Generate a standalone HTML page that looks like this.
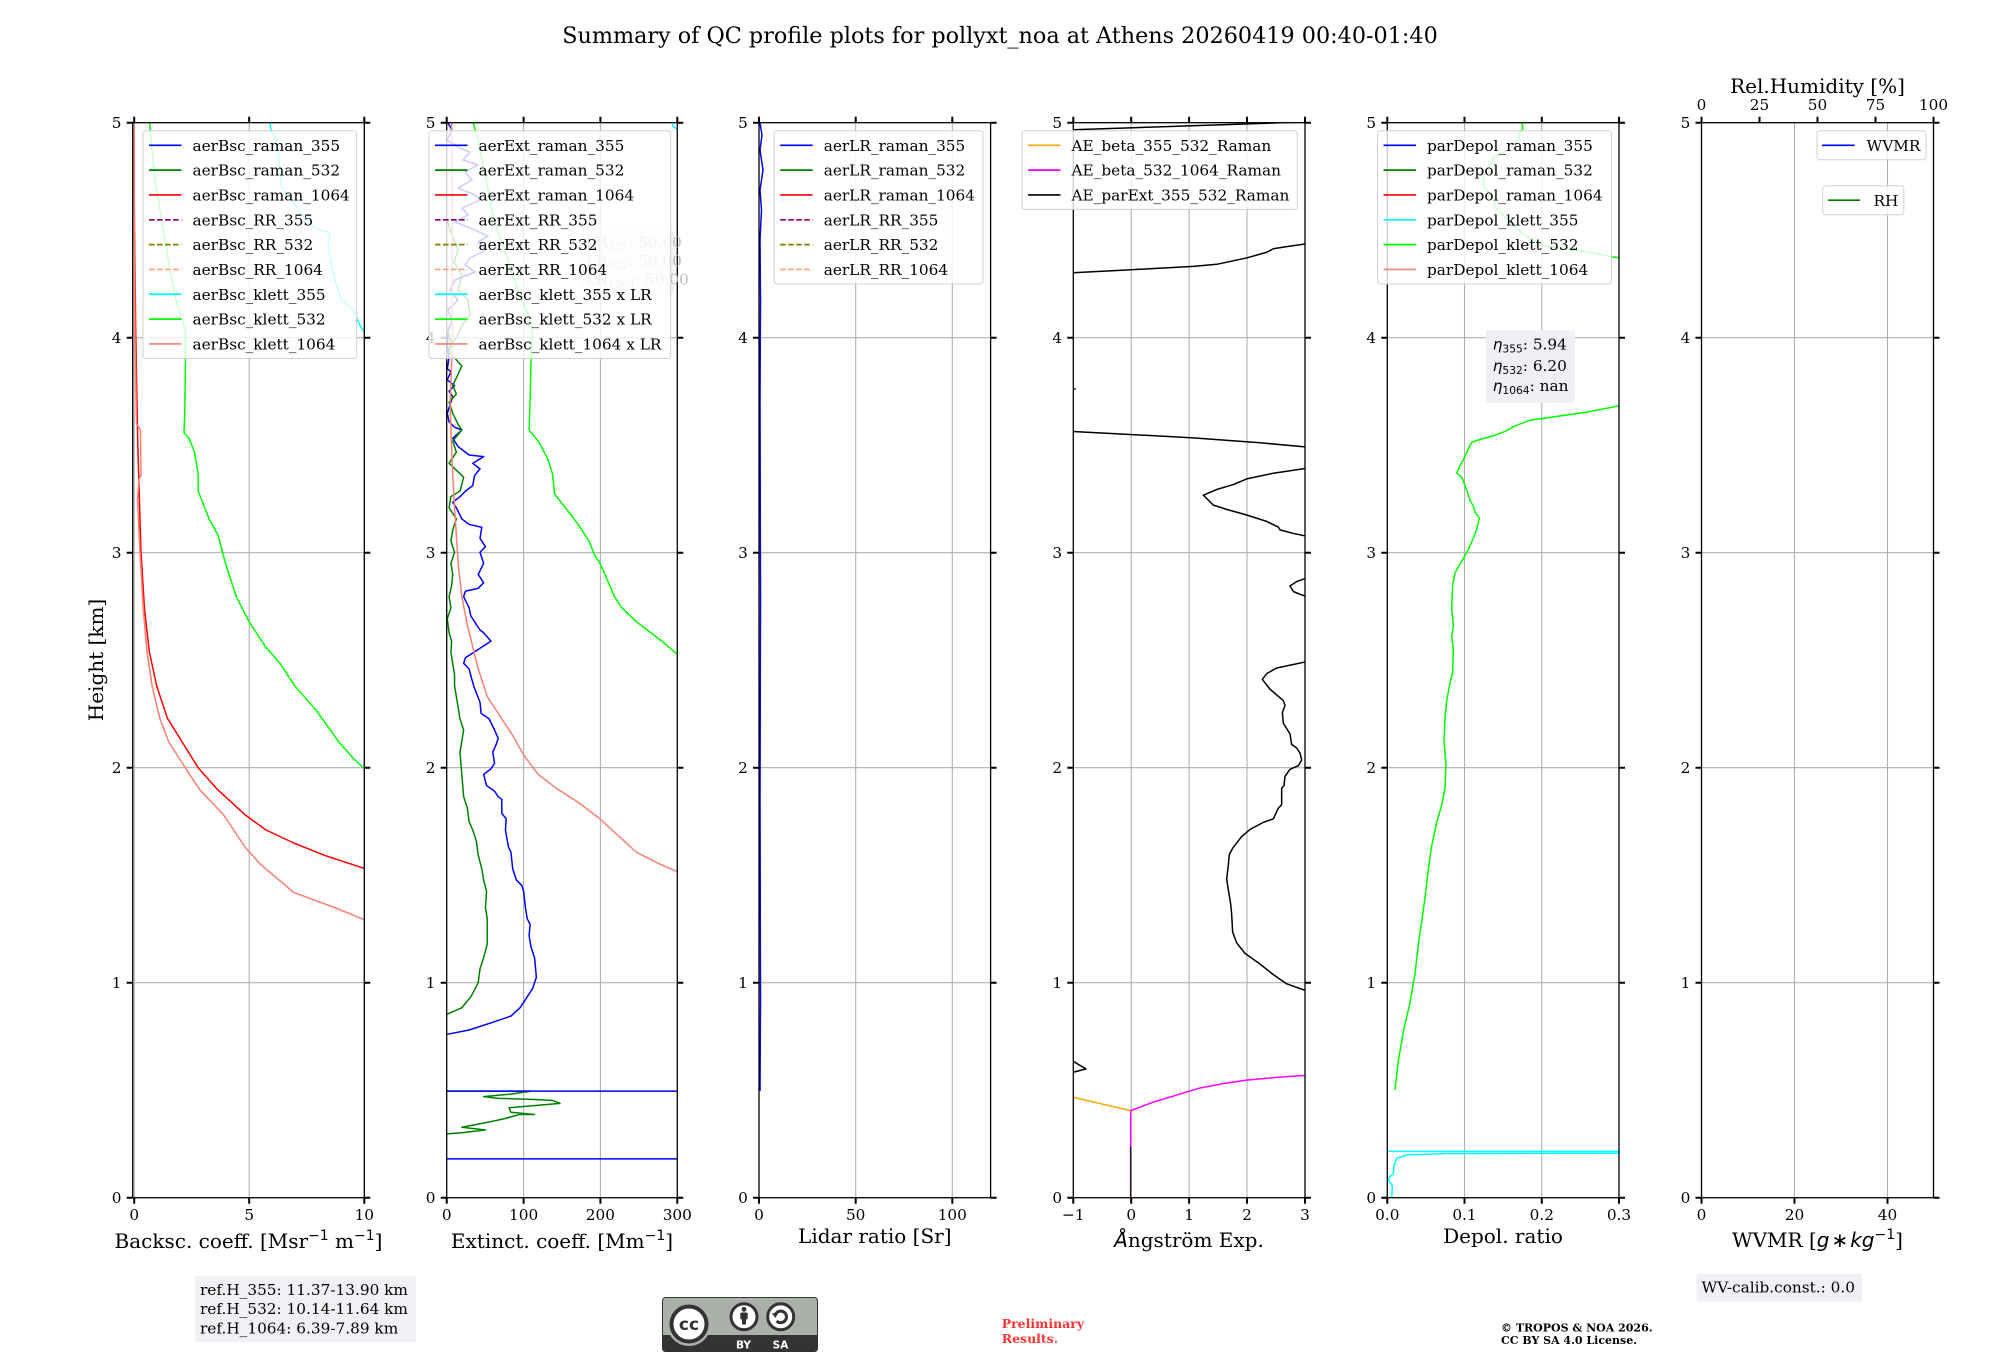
<!DOCTYPE html>
<html><head><meta charset="utf-8"><style>
html,body{margin:0;padding:0;background:#fff;}
svg{display:block;}
</style></head><body>
<svg width="2000" height="1360" viewBox="0 0 2000 1360" xmlns="http://www.w3.org/2000/svg" font-family="'DejaVu Serif', serif">
<rect width="2000" height="1360" fill="#fff"/>
<defs>
<clipPath id="c1"><rect x="132.7" y="122.7" width="231.6" height="1075"/></clipPath>
<clipPath id="c2"><rect x="446.7" y="122.7" width="230.6" height="1075"/></clipPath>
<clipPath id="c3"><rect x="759" y="122.7" width="231.6" height="1075"/></clipPath>
<clipPath id="c4"><rect x="1073.3" y="122.7" width="231.7" height="1075"/></clipPath>
<clipPath id="c5"><rect x="1387.3" y="122.7" width="231.7" height="1075"/></clipPath>
<clipPath id="c6"><rect x="1701.5" y="122.7" width="232" height="1075"/></clipPath>
</defs>

<!-- Title -->
<text x="1000" y="43" font-size="22.3" text-anchor="middle">Summary of QC profile plots for pollyxt_noa at Athens 20260419 00:40-01:40</text>

<!-- GRIDS -->
<g stroke="#b0b0b0" stroke-width="1.1" fill="none">
<path d="M134.2 122.7V1197.7M249.2 122.7V1197.7M364.3 122.7V1197.7M132.7 337.7H364.3M132.7 552.7H364.3M132.7 767.7H364.3M132.7 982.7H364.3"/>
<path d="M523.6 122.7V1197.7M600.4 122.7V1197.7M446.7 337.7H677.3M446.7 552.7H677.3M446.7 767.7H677.3M446.7 982.7H677.3"/>
<path d="M855.7 122.7V1197.7M952.3 122.7V1197.7M759 337.7H990.6M759 552.7H990.6M759 767.7H990.6M759 982.7H990.6"/>
<path d="M1131.2 122.7V1197.7M1189.1 122.7V1197.7M1247 122.7V1197.7M1073.3 337.7H1305M1073.3 552.7H1305M1073.3 767.7H1305M1073.3 982.7H1305"/>
<path d="M1464.5 122.7V1197.7M1541.8 122.7V1197.7M1387.3 337.7H1619M1387.3 552.7H1619M1387.3 767.7H1619M1387.3 982.7H1619"/>
<path d="M1794.5 122.7V1197.7M1887.5 122.7V1197.7M1701.5 337.7H1933.5M1701.5 552.7H1933.5M1701.5 767.7H1933.5M1701.5 982.7H1933.5"/>
</g>

<!-- PANEL 1 DATA -->
<g clip-path="url(#c1)" fill="none" stroke-width="1.5" stroke-linejoin="round">
<polyline stroke="#ff0000" points="133.8,122 134.5,230.2 135.8,337.7 137.8,445.2 141,552.7 144.5,608.6 149.3,651.6 156.7,686 167.4,718.3 182.1,741.9 198.1,767.7 217.2,789.2 245.2,814.9 266,830 293.7,843 326.1,855.9 365.1,868.7 426.4,886"/>
<polyline stroke="#00ffff" points="270,123 271,130 276.8,140 279,160 281.3,186.7 295,205 312.5,226.7 330.4,233.3 328,245 330.4,260 335,280 341.5,300 352.7,310 361.6,328.3 366,334"/>
<polyline stroke="#00ff00" points="149.6,122 152,150 155,180 160,210 165,240 170,270 176,300 182,320 185.5,330"/>
<polyline stroke="#fa8072" points="133.6,122 135,337.7 136.5,423.7 140.5,430 141,475 139,479 137.5,500 140,552.7 143.2,608.6 147,651.6 152.1,686 159.8,718.3 168.7,741.9 185.3,767.7 199.3,789.2 223.6,814.9 235,832 245.2,847.3 260.6,864.5 293.7,892.4 334.5,907.5 365.1,920.1 390,929"/>
<g transform="translate(120,330) scale(0.363636,0.555556)">
<polyline vector-effect="non-scaling-stroke" stroke="#00ff00" points="180,0 180,60 178,150 176,185 190,195 205,220 215,260 215,290 245,340 270,370 290,420 320,480 355,525 400,570 440,600 480,640 540,685 600,740 640,770 680,795"/>
</g>
</g>

<!-- PANEL 2 DATA -->
<g clip-path="url(#c2)" fill="none" stroke-width="1.5" stroke-linejoin="round">
<polyline stroke="#0000ff" points="448,123 452,130 447,140 460,148 470,152 463,160 478,165 465,172 472,180 458,188 475,195 480,200 462,208 468,215 455,222 470,228 488,236 478,242 486,250 470,258 465,265 475,272 455,280 450,290 458,300 448,310 452,320 448.4,330"/>
<polyline stroke="#008000" points="447,220 452,235 458,250 454,262 462,275 458,290 468,300 470,315 462,325 458,335 447,352"/>
<polyline stroke="#fa8072" points="451.5,122 452.5,200 452,280 452.7,330"/>
<polyline stroke="#00ff00" points="473,122 478,140 482,160 487,185 492,210 497,230 503,245 508,260 512,275 518,290 524,305 529,318 532.7,330"/>
<polyline stroke="#00ffff" points="672,124 674,127 678,130"/>
<g transform="translate(120,330) scale(0.363636,0.555556)">
<polyline vector-effect="non-scaling-stroke" stroke="#0000ff" points="903,0 900,30 905,50 900,70 910,75 900,90 920,100 905,110 915,120 900,150 905,165 920,175 940,180 915,195 930,210 960,225 1000,228 970,240 990,250 975,262 970,280 950,290 935,300 915,310 925,320 940,340 960,350 995,355 990,375 1005,390 990,400 1000,420 985,440 1000,455 985,465 950,470 945,480 960,500 965,515 975,525 990,540 1000,545 1020,560 985,575 950,590 945,600 960,610 968,630 975,645 990,670 993,690 1015,700 1030,720 1040,735 1035,745 1025,760 1030,780 1020,790 1000,800 1008,820 1030,830 1040,840 1050,845 1050,870 1062,880 1060,900 1068,930 1075,940 1080,970 1090,990 1105,1000 1110,1010 1115,1040 1120,1060 1128,1070 1125,1090 1130,1110 1140,1130 1145,1165 1135,1185 1120,1200 1100,1220 1075,1235 1030,1245 960,1260 898,1268"/>
<polyline vector-effect="non-scaling-stroke" stroke="#008000" points="900,0 910,20 905,40 920,50 940,65 915,100 925,115 905,130 915,150 930,170 940,180 915,200 925,220 905,240 945,265 935,290 910,300 905,320 925,340 915,360 910,380 920,400 910,420 915,440 912,460 905,480 910,500 900,520 905,545 912,560 910,580 915,600 920,620 920,640 925,660 930,680 935,700 945,720 940,740 935,760 940,800 945,840 955,860 960,885 970,900 980,920 985,945 995,970 1000,990 1008,1010 1005,1040 1010,1060 1010,1105 1000,1130 990,1150 985,1175 965,1200 940,1220 898,1232"/>
<polyline vector-effect="non-scaling-stroke" stroke="#008000" points="898,1447 940,1445 1005,1440 940,1435 1020,1425 1055,1420 1100,1412 1140,1412 1075,1408 1070,1400 1210,1392 1190,1387 1140,1385 1040,1383 1000,1380 1080,1375 1130,1370 900,1370"/>
<polyline vector-effect="non-scaling-stroke" stroke="#fa8072" points="915,0 912,60 908,130 910,180 915,260 920,320 925,370 930,420 940,480 955,530 970,570 985,610 1010,660 1050,700 1080,730 1110,765 1150,800 1200,825 1260,850 1320,880 1370,910 1420,940 1480,960 1540,977"/>
<polyline vector-effect="non-scaling-stroke" stroke="#00ff00" points="1135,0 1130,60 1128,120 1125,180 1150,200 1175,230 1190,260 1195,295 1225,320 1260,350 1290,380 1305,405 1320,420 1340,450 1360,480 1380,500 1420,525 1450,540 1490,560 1540,588"/>
<polyline vector-effect="non-scaling-stroke" stroke="#0000ff" points="898,1370 1540,1370"/>
<polyline vector-effect="non-scaling-stroke" stroke="#0000ff" points="898,1492 1540,1492"/>
</g>
</g>

<!-- PANEL 3 DATA -->
<g clip-path="url(#c3)" fill="none" stroke-width="1.5">
<polyline stroke="#0000ff" points="760,123 762,135 760,150 763,170 760,190 761.5,210 760,240 760.5,300 760,400 760.5,600 760,800 760.5,1000 760,1091"/>
</g>

<!-- PANEL 4 DATA -->
<g clip-path="url(#c4)" fill="none" stroke-width="1.5" stroke-linejoin="round">
<g transform="translate(1060,100) scale(0.333333,0.708215)">
<polyline vector-effect="non-scaling-stroke" stroke="#000" points="39,42 675,32 740,31"/>
<polyline vector-effect="non-scaling-stroke" stroke="#000" points="38,244 200,240 400,235 470,232 560,223 620,215 640,210 680,207 740,203"/>
<polyline vector-effect="non-scaling-stroke" stroke="#000" points="38,408 47,408"/>
<polyline vector-effect="non-scaling-stroke" stroke="#000" points="38,468 400,477 600,484 740,490"/>
<polyline vector-effect="non-scaling-stroke" stroke="#000" points="740,520 640,527 560,535 520,543 470,550 430,558 445,565 460,572 500,578 560,586 620,595 655,603 660,607 700,612 740,616"/>
<polyline vector-effect="non-scaling-stroke" stroke="#000" points="740,675 710,680 690,686 700,694 720,698 740,701"/>
<polyline vector-effect="non-scaling-stroke" stroke="#000" points="740,793 650,802 620,810 607,818 615,823 630,832 650,840 670,848 675,855 667,865 670,880 690,895 695,910 710,915 720,922 725,932 715,940 690,945 675,955 672,968 665,972 665,995 655,1000 640,1015 610,1020 570,1030 545,1040 520,1055 508,1065 505,1080 500,1100 505,1115 512,1135 515,1150 518,1175 530,1190 555,1205 600,1220 640,1235 680,1248 740,1258"/>
<polyline vector-effect="non-scaling-stroke" stroke="#000" points="38,1357 78,1368 38,1373"/>
<polyline vector-effect="non-scaling-stroke" stroke="#ffa500" points="38,1408 212,1427"/>
<polyline vector-effect="non-scaling-stroke" stroke="#ff00ff" points="212,1427 280,1415 350,1405 420,1395 500,1388 560,1384 650,1380 740,1377"/>
<polyline vector-effect="non-scaling-stroke" stroke="#ff00ff" points="212,1427 212,1478"/>
<polyline vector-effect="non-scaling-stroke" stroke="#301030" points="212,1478 212,1552"/>
</g>
</g>

<!-- PANEL 5 DATA -->
<g clip-path="url(#c5)" fill="none" stroke-width="1.5" stroke-linejoin="round">
<polyline stroke="#00ff00" points="1521.5,122 1523,128.3 1520.4,131.7 1518.5,138.3 1510.8,146.7 1503,153.3 1493.5,156.7 1491.5,163.3 1485.8,170 1483,180 1483.8,186.7 1489.6,193.3 1493.5,200 1495.4,206.7 1503,215 1510.8,223.3 1522.3,233.3 1541.5,245 1572.3,250 1595.4,253.3 1610.8,256.7 1621,258"/>
<g transform="translate(1380,300) scale(0.333333,0.580720)">
<polyline vector-effect="non-scaling-stroke" stroke="#00ff00" points="45,1360 55,1310 70,1260 90,1210 105,1160 115,1110 125,1070 135,1030 145,980 155,940 170,900 185,870 195,840 198,800 192,760 195,720 200,690 210,660 218,640 220,600 215,580 220,560 215,530 218,490 225,470 240,455 255,440 265,430 280,410 290,395 298,375 285,365 280,355 270,345 262,330 255,320 245,305 230,298 240,285 250,275 262,260 275,245 300,240 340,234 380,225 400,218 450,207 500,203 560,198 620,193 720,182"/>
<polyline vector-effect="non-scaling-stroke" stroke="#00ffff" points="22,1466 720,1466"/>
<polyline vector-effect="non-scaling-stroke" stroke="#00ffff" points="35,1550 37,1525 25,1515 28,1510 40,1505 42,1490 50,1478 80,1472 200,1470 720,1469"/>
</g>
</g>

<!-- SPINES -->
<g fill="none" stroke="#000" stroke-width="1.3">
<rect x="132.7" y="122.7" width="231.6" height="1075"/>
<rect x="446.7" y="122.7" width="230.6" height="1075"/>
<rect x="759" y="122.7" width="231.6" height="1075"/>
<rect x="1073.3" y="122.7" width="231.7" height="1075"/>
<rect x="1387.3" y="122.7" width="231.7" height="1075"/>
<rect x="1701.5" y="122.7" width="232" height="1075"/>
</g>

<!-- TICKS -->
<g stroke="#000" stroke-width="2" fill="none">
<path d="M126.7 1197.7H132.7M126.7 982.7H132.7M126.7 767.7H132.7M126.7 552.7H132.7M126.7 337.7H132.7M126.7 122.7H132.7 M364.3 1197.7H370.3M364.3 982.7H370.3M364.3 767.7H370.3M364.3 552.7H370.3M364.3 337.7H370.3M364.3 122.7H370.3"/>
<path d="M440.7 1197.7H446.7M440.7 982.7H446.7M440.7 767.7H446.7M440.7 552.7H446.7M440.7 337.7H446.7M440.7 122.7H446.7 M677.3 1197.7H683.3M677.3 982.7H683.3M677.3 767.7H683.3M677.3 552.7H683.3M677.3 337.7H683.3M677.3 122.7H683.3"/>
<path d="M753 1197.7H759M753 982.7H759M753 767.7H759M753 552.7H759M753 337.7H759M753 122.7H759 M990.6 1197.7H996.6M990.6 982.7H996.6M990.6 767.7H996.6M990.6 552.7H996.6M990.6 337.7H996.6M990.6 122.7H996.6"/>
<path d="M1067.3 1197.7H1073.3M1067.3 982.7H1073.3M1067.3 767.7H1073.3M1067.3 552.7H1073.3M1067.3 337.7H1073.3M1067.3 122.7H1073.3 M1305 1197.7H1311M1305 982.7H1311M1305 767.7H1311M1305 552.7H1311M1305 337.7H1311M1305 122.7H1311"/>
<path d="M1381.3 1197.7H1387.3M1381.3 982.7H1387.3M1381.3 767.7H1387.3M1381.3 552.7H1387.3M1381.3 337.7H1387.3M1381.3 122.7H1387.3 M1619 1197.7H1625M1619 982.7H1625M1619 767.7H1625M1619 552.7H1625M1619 337.7H1625M1619 122.7H1625"/>
<path d="M1695.5 1197.7H1701.5M1695.5 982.7H1701.5M1695.5 767.7H1701.5M1695.5 552.7H1701.5M1695.5 337.7H1701.5M1695.5 122.7H1701.5 M1933.5 1197.7H1939.5M1933.5 982.7H1939.5M1933.5 767.7H1939.5M1933.5 552.7H1939.5M1933.5 337.7H1939.5M1933.5 122.7H1939.5"/>
<path d="M134.2 1197.7V1203.7M249.2 1197.7V1203.7M364.3 1197.7V1203.7M134.2 122.7V116.7M249.2 122.7V116.7M364.3 122.7V116.7"/>
<path d="M446.7 1197.7V1203.7M523.6 1197.7V1203.7M600.4 1197.7V1203.7M677.3 1197.7V1203.7M446.7 122.7V116.7M523.6 122.7V116.7M600.4 122.7V116.7M677.3 122.7V116.7"/>
<path d="M759 1197.7V1203.7M855.7 1197.7V1203.7M952.3 1197.7V1203.7M759 122.7V116.7M855.7 122.7V116.7M952.3 122.7V116.7"/>
<path d="M1073.3 1197.7V1203.7M1131.2 1197.7V1203.7M1189.1 1197.7V1203.7M1247 1197.7V1203.7M1305 1197.7V1203.7M1073.3 122.7V116.7M1131.2 122.7V116.7M1189.1 122.7V116.7M1247 122.7V116.7M1305 122.7V116.7"/>
<path d="M1387.3 1197.7V1203.7M1464.5 1197.7V1203.7M1541.8 1197.7V1203.7M1619 1197.7V1203.7M1387.3 122.7V116.7M1464.5 122.7V116.7M1541.8 122.7V116.7M1619 122.7V116.7"/>
<path d="M1701.5 1197.7V1203.7M1794.5 1197.7V1203.7M1887.5 1197.7V1203.7M1701.5 122.7V116.7M1759.5 122.7V116.7M1817.5 122.7V116.7M1875.5 122.7V116.7M1933.5 122.7V116.7"/>
</g>

<!-- TICK LABELS -->
<g font-size="15.3" fill="#000">
<g text-anchor="end">
<text x="121.5" y="1203.2">0</text><text x="121.5" y="988.2">1</text><text x="121.5" y="773.2">2</text><text x="121.5" y="558.2">3</text><text x="121.5" y="343.2">4</text><text x="121.5" y="128.2">5</text>
<text x="435.5" y="1203.2">0</text><text x="435.5" y="988.2">1</text><text x="435.5" y="773.2">2</text><text x="435.5" y="558.2">3</text><text x="435.5" y="343.2">4</text><text x="435.5" y="128.2">5</text>
<text x="747.8" y="1203.2">0</text><text x="747.8" y="988.2">1</text><text x="747.8" y="773.2">2</text><text x="747.8" y="558.2">3</text><text x="747.8" y="343.2">4</text><text x="747.8" y="128.2">5</text>
<text x="1062.1" y="1203.2">0</text><text x="1062.1" y="988.2">1</text><text x="1062.1" y="773.2">2</text><text x="1062.1" y="558.2">3</text><text x="1062.1" y="343.2">4</text><text x="1062.1" y="128.2">5</text>
<text x="1376.1" y="1203.2">0</text><text x="1376.1" y="988.2">1</text><text x="1376.1" y="773.2">2</text><text x="1376.1" y="558.2">3</text><text x="1376.1" y="343.2">4</text><text x="1376.1" y="128.2">5</text>
<text x="1690.3" y="1203.2">0</text><text x="1690.3" y="988.2">1</text><text x="1690.3" y="773.2">2</text><text x="1690.3" y="558.2">3</text><text x="1690.3" y="343.2">4</text><text x="1690.3" y="128.2">5</text>
</g>
<g text-anchor="middle">
<text x="134.2" y="1220">0</text><text x="249.2" y="1220">5</text><text x="364.3" y="1220">10</text>
<text x="446.7" y="1220">0</text><text x="523.6" y="1220">100</text><text x="600.4" y="1220">200</text><text x="677.3" y="1220">300</text>
<text x="759" y="1220">0</text><text x="855.7" y="1220">50</text><text x="952.3" y="1220">100</text>
<text x="1073.3" y="1220">−1</text><text x="1131.2" y="1220">0</text><text x="1189.1" y="1220">1</text><text x="1247" y="1220">2</text><text x="1305" y="1220">3</text>
<text x="1387.3" y="1220">0.0</text><text x="1464.5" y="1220">0.1</text><text x="1541.8" y="1220">0.2</text><text x="1619" y="1220">0.3</text>
<text x="1701.5" y="1220">0</text><text x="1794.5" y="1220">20</text><text x="1887.5" y="1220">40</text>
<text x="1701.5" y="110">0</text><text x="1759.5" y="110">25</text><text x="1817.5" y="110">50</text><text x="1875.5" y="110">75</text><text x="1933.5" y="110">100</text>
</g>
</g>

<!-- AXIS LABELS -->
<g font-size="20" text-anchor="middle" fill="#000">
<text x="103" y="660" transform="rotate(-90 103 660)">Height [km]</text>
<text x="248.5" y="1248">Backsc. coeff. [Msr<tspan font-family="'DejaVu Sans', sans-serif" font-size="14" dy="-8">−1</tspan><tspan dy="8"> m</tspan><tspan font-family="'DejaVu Sans', sans-serif" font-size="14" dy="-8">−1</tspan><tspan dy="8">]</tspan></text>
<text x="562" y="1248">Extinct. coeff. [Mm<tspan font-family="'DejaVu Sans', sans-serif" font-size="14" dy="-8">−1</tspan><tspan dy="8">]</tspan></text>
<text x="874.8" y="1243">Lidar ratio [Sr]</text>
<text x="1189" y="1247"><tspan font-family="'DejaVu Sans', sans-serif" font-style="italic">Å</tspan>ngström Exp.</text>
<text x="1503" y="1243">Depol. ratio</text>
<text x="1817.5" y="1247">WVMR [<tspan font-family="'DejaVu Sans', sans-serif" font-style="italic">g</tspan><tspan font-family="'DejaVu Sans', sans-serif" dx="2">∗</tspan><tspan font-family="'DejaVu Sans', sans-serif" font-style="italic" dx="2">kg</tspan><tspan font-family="'DejaVu Sans', sans-serif" font-size="14" dy="-8">−1</tspan><tspan dy="8">]</tspan></text>
<text x="1817.5" y="93">Rel.Humidity [%]</text>
</g>

<!-- LR box (panel 2, under legend) -->
<g>
<rect x="580" y="231" width="94.3" height="63" fill="#e8e8f0" fill-opacity="0.5"/>
<g font-size="15.3" fill="#bbbbbb">
<text x="586" y="247.5">LR<tspan font-size="10.7" dy="3">355</tspan><tspan dy="-3">: 50.00</tspan></text>
<text x="586" y="266">LR<tspan font-size="10.7" dy="3">532</tspan><tspan dy="-3">: 50.00</tspan></text>
<text x="586" y="284.5">LR<tspan font-size="10.7" dy="3">1064</tspan><tspan dy="-3">: 50.00</tspan></text>
</g>
</g>

<!-- LEGENDS -->
<g font-size="15.3" fill="#000">
<g transform="translate(143,130.8)">
<rect x="0" y="0" width="213.7" height="227.7" rx="3" fill="#fff" fill-opacity="0.8" stroke="#d0d0d0" stroke-width="1"/>
<g stroke-width="1.7" fill="none">
<path d="M6 14.5H38.5" stroke="#0000ff"/><path d="M6 39.33H38.5" stroke="#008000"/><path d="M6 64.16H38.5" stroke="#ff0000"/>
<path d="M6 88.99H38.5" stroke="#800080" stroke-dasharray="5.6 2.4"/><path d="M6 113.82H38.5" stroke="#808000" stroke-dasharray="5.6 2.4"/><path d="M6 138.65H38.5" stroke="#ffa07a" stroke-dasharray="5.6 2.4"/>
<path d="M6 163.48H38.5" stroke="#00ffff"/><path d="M6 188.31H38.5" stroke="#00ff00"/><path d="M6 213.14H38.5" stroke="#fa8072"/>
</g>
<text x="49.5" y="20.1">aerBsc_raman_355</text><text x="49.5" y="44.93">aerBsc_raman_532</text><text x="49.5" y="69.76">aerBsc_raman_1064</text>
<text x="49.5" y="94.59">aerBsc_RR_355</text><text x="49.5" y="119.42">aerBsc_RR_532</text><text x="49.5" y="144.25">aerBsc_RR_1064</text>
<text x="49.5" y="169.08">aerBsc_klett_355</text><text x="49.5" y="193.91">aerBsc_klett_532</text><text x="49.5" y="218.74">aerBsc_klett_1064</text>
</g>
<g transform="translate(429,130.8)">
<rect x="0" y="0" width="241.7" height="227.7" rx="3" fill="#fff" fill-opacity="0.8" stroke="#d0d0d0" stroke-width="1"/>
<g stroke-width="1.7" fill="none">
<path d="M6 14.5H38.5" stroke="#0000ff"/><path d="M6 39.33H38.5" stroke="#008000"/><path d="M6 64.16H38.5" stroke="#ff0000"/>
<path d="M6 88.99H38.5" stroke="#800080" stroke-dasharray="5.6 2.4"/><path d="M6 113.82H38.5" stroke="#808000" stroke-dasharray="5.6 2.4"/><path d="M6 138.65H38.5" stroke="#ffa07a" stroke-dasharray="5.6 2.4"/>
<path d="M6 163.48H38.5" stroke="#00ffff"/><path d="M6 188.31H38.5" stroke="#00ff00"/><path d="M6 213.14H38.5" stroke="#fa8072"/>
</g>
<text x="49.5" y="20.1">aerExt_raman_355</text><text x="49.5" y="44.93">aerExt_raman_532</text><text x="49.5" y="69.76">aerExt_raman_1064</text>
<text x="49.5" y="94.59">aerExt_RR_355</text><text x="49.5" y="119.42">aerExt_RR_532</text><text x="49.5" y="144.25">aerExt_RR_1064</text>
<text x="49.5" y="169.08">aerBsc_klett_355 x LR</text><text x="49.5" y="193.91">aerBsc_klett_532 x LR</text><text x="49.5" y="218.74">aerBsc_klett_1064 x LR</text>
</g>
<g transform="translate(774.2,130.8)">
<rect x="0" y="0" width="208.8" height="153.2" rx="3" fill="#fff" fill-opacity="0.8" stroke="#d0d0d0" stroke-width="1"/>
<g stroke-width="1.7" fill="none">
<path d="M6 14.5H38.5" stroke="#0000ff"/><path d="M6 39.33H38.5" stroke="#008000"/><path d="M6 64.16H38.5" stroke="#ff0000"/>
<path d="M6 88.99H38.5" stroke="#800080" stroke-dasharray="5.6 2.4"/><path d="M6 113.82H38.5" stroke="#808000" stroke-dasharray="5.6 2.4"/><path d="M6 138.65H38.5" stroke="#ffa07a" stroke-dasharray="5.6 2.4"/>
</g>
<text x="49.5" y="20.1">aerLR_raman_355</text><text x="49.5" y="44.93">aerLR_raman_532</text><text x="49.5" y="69.76">aerLR_raman_1064</text>
<text x="49.5" y="94.59">aerLR_RR_355</text><text x="49.5" y="119.42">aerLR_RR_532</text><text x="49.5" y="144.25">aerLR_RR_1064</text>
</g>
<g transform="translate(1022,130.8)">
<rect x="0" y="0" width="275.4" height="78.6" rx="3" fill="#fff" fill-opacity="0.8" stroke="#d0d0d0" stroke-width="1"/>
<g stroke-width="1.7" fill="none">
<path d="M6 14.5H38.5" stroke="#ffa500"/><path d="M6 39.33H38.5" stroke="#ff00ff"/><path d="M6 64.16H38.5" stroke="#000000"/>
</g>
<text x="49.5" y="20.1">AE_beta_355_532_Raman</text><text x="49.5" y="44.93">AE_beta_532_1064_Raman</text><text x="49.5" y="69.76">AE_parExt_355_532_Raman</text>
</g>
<g transform="translate(1377.5,130.8)">
<rect x="0" y="0" width="234" height="153.2" rx="3" fill="#fff" fill-opacity="0.8" stroke="#d0d0d0" stroke-width="1"/>
<g stroke-width="1.7" fill="none">
<path d="M6 14.5H38.5" stroke="#0000ff"/><path d="M6 39.33H38.5" stroke="#008000"/><path d="M6 64.16H38.5" stroke="#ff0000"/>
<path d="M6 88.99H38.5" stroke="#00ffff"/><path d="M6 113.82H38.5" stroke="#00ff00"/><path d="M6 138.65H38.5" stroke="#fa8072"/>
</g>
<text x="49.5" y="20.1">parDepol_raman_355</text><text x="49.5" y="44.93">parDepol_raman_532</text><text x="49.5" y="69.76">parDepol_raman_1064</text>
<text x="49.5" y="94.59">parDepol_klett_355</text><text x="49.5" y="119.42">parDepol_klett_532</text><text x="49.5" y="144.25">parDepol_klett_1064</text>
</g>
<g transform="translate(1817,130.8)">
<rect x="0" y="0" width="109" height="29" rx="3" fill="#fff" fill-opacity="0.8" stroke="#d0d0d0" stroke-width="1"/>
<path d="M5 14.5H37.5" stroke="#0000ff" stroke-width="1.7"/>
<text x="49.5" y="20.1">WVMR</text>
</g>
<g transform="translate(1822.7,185.7)">
<rect x="0" y="0" width="81.1" height="29" rx="3" fill="#fff" fill-opacity="0.8" stroke="#d0d0d0" stroke-width="1"/>
<path d="M5.3 14.5H37.5" stroke="#008000" stroke-width="1.7"/>
<text x="50.8" y="20.1">RH</text>
</g>
</g>

<!-- eta box panel 5 -->
<rect x="1486" y="330.2" width="89" height="72.6" fill="#eff0f5"/>
<g font-size="15.3" fill="#000">
<text x="1492.7" y="349.4"><tspan font-family="'DejaVu Sans', sans-serif" font-style="italic">η</tspan><tspan font-family="'DejaVu Sans', sans-serif" font-size="10.7" dy="3">355</tspan><tspan dy="-3">: 5.94</tspan></text>
<text x="1492.7" y="370.8"><tspan font-family="'DejaVu Sans', sans-serif" font-style="italic">η</tspan><tspan font-family="'DejaVu Sans', sans-serif" font-size="10.7" dy="3">532</tspan><tspan dy="-3">: 6.20</tspan></text>
<text x="1492.7" y="391.2"><tspan font-family="'DejaVu Sans', sans-serif" font-style="italic">η</tspan><tspan font-family="'DejaVu Sans', sans-serif" font-size="10.7" dy="3">1064</tspan><tspan dy="-3">: nan</tspan></text>
</g>

<!-- ref.H box -->
<rect x="195" y="1276" width="221" height="66" fill="#f0f0f5"/>
<g font-size="15.3" fill="#000">
<text x="200" y="1295">ref.H_355: 11.37-13.90 km</text>
<text x="200" y="1314">ref.H_532: 10.14-11.64 km</text>
<text x="200" y="1333.3">ref.H_1064: 6.39-7.89 km</text>
</g>

<!-- WV calib box -->
<rect x="1696.5" y="1274" width="165.5" height="27.7" fill="#f0f0f5"/>
<text x="1701.5" y="1292.3" font-size="15.3" fill="#000">WV-calib.const.: 0.0</text>

<!-- CC logo -->
<g>
<rect x="662.5" y="1297.5" width="155" height="54" rx="3" fill="#abb1aa" stroke="#333" stroke-width="1"/>
<rect x="663" y="1335" width="154" height="16.2" fill="#333"/>
<circle cx="689" cy="1324" r="22" fill="#abb1aa"/>
<circle cx="689" cy="1324" r="17.5" fill="#fff" stroke="#333" stroke-width="4"/>
<text x="689" y="1330" font-family="'DejaVu Sans', sans-serif" font-weight="bold" font-size="17" text-anchor="middle" fill="#333">cc</text>
<circle cx="744" cy="1316.7" r="13" fill="#fff" stroke="#333" stroke-width="3"/>
<circle cx="744" cy="1309.3" r="2.4" fill="#333"/>
<rect x="740.3" y="1312.5" width="7.4" height="7" rx="1.2" fill="#333"/>
<rect x="742" y="1318" width="4" height="6.5" fill="#333"/>
<circle cx="780.7" cy="1316.7" r="13" fill="#fff" stroke="#333" stroke-width="3"/>
<path d="M775.2 1315 A5.8 5.8 0 1 1 776.6 1321" fill="none" stroke="#333" stroke-width="3"/>
<path d="M772 1313 L778.5 1313 L775.2 1318 Z" fill="#333"/>
<text x="743.5" y="1348.3" font-family="'DejaVu Sans', sans-serif" font-weight="bold" font-size="10.5" text-anchor="middle" fill="#fff">BY</text>
<text x="780.5" y="1348.3" font-family="'DejaVu Sans', sans-serif" font-weight="bold" font-size="10.5" text-anchor="middle" fill="#fff">SA</text>
</g>

<!-- Preliminary -->
<g font-size="12.5" font-weight="bold" fill="#ff3333">
<text x="1001.7" y="1328">Preliminary</text>
<text x="1001.7" y="1343">Results.</text>
</g>

<!-- Copyright -->
<g font-size="11" font-weight="bold" fill="#000">
<text x="1501" y="1331.5">© TROPOS &amp; NOA 2026.</text>
<text x="1501" y="1344">CC BY SA 4.0 License.</text>
</g>
</svg>
</body></html>
